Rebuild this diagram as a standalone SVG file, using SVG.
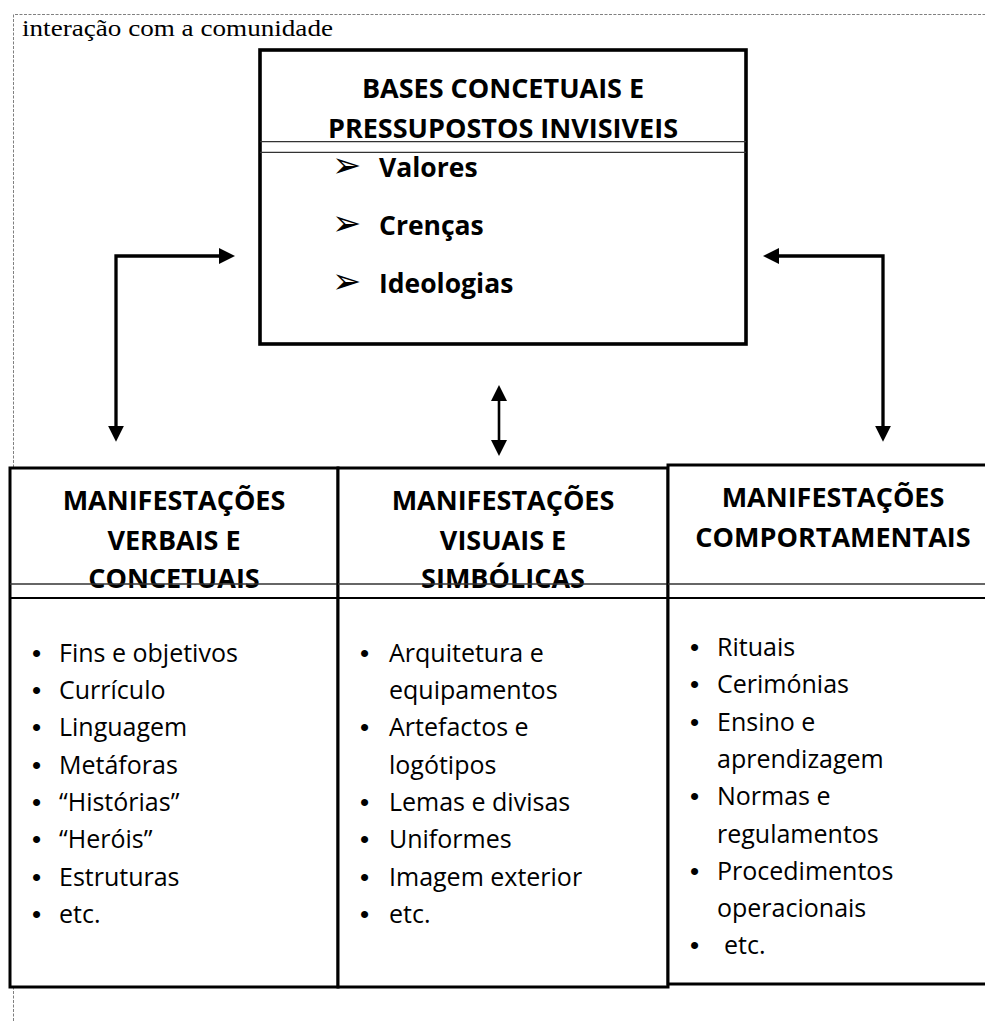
<svg xmlns="http://www.w3.org/2000/svg" width="985" height="1021" viewBox="0 0 985 1021">
<style>
.frame{fill:none;stroke:#808080;stroke-width:1;stroke-dasharray:3 1.5}
.cap{font-family:"Liberation Serif","Times New Roman",serif;font-size:23px;fill:#000}
.box{fill:#fff;stroke:#000;stroke-width:3}
.tbox{fill:#fff;stroke:#000;stroke-width:3.6}
.s1{stroke:#333;stroke-width:1.3}
.s2{stroke:#000;stroke-width:2}
.h{font-family:"Open Sans","DejaVu Sans",sans-serif;font-weight:700;font-size:27px;text-anchor:middle;fill:#000}
.tb{font-family:"Open Sans","DejaVu Sans",sans-serif;font-weight:700;font-size:26.5px;fill:#000}
.ar{font-family:"DejaVu Sans",sans-serif;font-size:35px;font-weight:400}
.li{font-family:"Open Sans","DejaVu Sans",sans-serif;font-size:25px;fill:#000}
.bu{font-family:"Liberation Sans",Arial,sans-serif;font-size:26px}
.con{fill:none;stroke:#000;stroke-width:3.3}
.con2{fill:none;stroke:#000;stroke-width:2.6}
</style>
<defs>
<marker id="ah" viewBox="0 0 16 16" markerWidth="16" markerHeight="16" markerUnits="userSpaceOnUse" refX="4" refY="8" orient="auto-start-reverse">
<path d="M0,0 L16,8 L0,16 z" fill="#000"/>
</marker>
</defs>

<g id="frame">
<path class="frame" d="M13.5,1021 V14.5 H985"/>
<text class="cap" x="22" y="36" textLength="311" lengthAdjust="spacingAndGlyphs">interação com a comunidade</text>
</g>

<g id="connectors">
<path class="con" d="M116,429.7 V256 H223" marker-start="url(#ah)" marker-end="url(#ah)"/>
<path class="con" d="M883,429.7 V256 H775" marker-start="url(#ah)" marker-end="url(#ah)"/>
<path class="con2" d="M499,397 V444" marker-start="url(#ah)" marker-end="url(#ah)"/>
</g>

<g id="bases">
<rect class="tbox" x="260" y="50" width="486" height="294"/>
<text class="h" x="503" y="98">BASES CONCETUAIS E</text>
<text class="h" x="503" y="137.7">PRESSUPOSTOS INVISIVEIS</text>
<line class="s1" x1="260" y1="141.7" x2="746" y2="141.7"/>
<line class="s1" x1="260" y1="152.3" x2="746" y2="152.3"/>
<text class="tb" y="176.7"><tspan class="ar" x="332">➢</tspan><tspan x="379">Valores</tspan></text>
<text class="tb" y="235"><tspan class="ar" x="332">➢</tspan><tspan x="379">Crenças</tspan></text>
<text class="tb" y="293"><tspan class="ar" x="332">➢</tspan><tspan x="379">Ideologias</tspan></text>
</g>

<g id="verbais">
<rect class="box" x="10" y="468" width="328" height="519"/>
<text class="h" x="174" y="510">MANIFESTAÇÕES</text>
<text class="h" x="174" y="550">VERBAIS E</text>
<text class="h" x="174" y="588">CONCETUAIS</text>
<line class="s1" x1="10" y1="584" x2="338" y2="584"/>
<line class="s2" x1="10" y1="598" x2="338" y2="598"/>
<text class="li" y="661.7"><tspan class="bu" x="32">•</tspan><tspan x="59">Fins e objetivos</tspan></text>
<text class="li" y="699"><tspan class="bu" x="32">•</tspan><tspan x="59">Currículo</tspan></text>
<text class="li" y="736.3"><tspan class="bu" x="32">•</tspan><tspan x="59">Linguagem</tspan></text>
<text class="li" y="773.6"><tspan class="bu" x="32">•</tspan><tspan x="59">Metáforas</tspan></text>
<text class="li" y="810.9"><tspan class="bu" x="32">•</tspan><tspan x="59">“Histórias”</tspan></text>
<text class="li" y="848.2"><tspan class="bu" x="32">•</tspan><tspan x="59">“Heróis”</tspan></text>
<text class="li" y="885.5"><tspan class="bu" x="32">•</tspan><tspan x="59">Estruturas</tspan></text>
<text class="li" y="922.8"><tspan class="bu" x="32">•</tspan><tspan x="59">etc.</tspan></text>
</g>

<g id="visuais">
<rect class="box" x="338" y="468" width="330" height="519"/>
<text class="h" x="503" y="510">MANIFESTAÇÕES</text>
<text class="h" x="503" y="550">VISUAIS E</text>
<text class="h" x="503" y="588">SIMBÓLICAS</text>
<line class="s1" x1="338" y1="584" x2="668" y2="584"/>
<line class="s2" x1="338" y1="598" x2="668" y2="598"/>
<text class="li" y="661.7"><tspan class="bu" x="360">•</tspan><tspan x="389">Arquitetura e</tspan></text>
<text class="li" x="389" y="699">equipamentos</text>
<text class="li" y="736.3"><tspan class="bu" x="360">•</tspan><tspan x="389">Artefactos e</tspan></text>
<text class="li" x="389" y="773.6">logótipos</text>
<text class="li" y="810.9"><tspan class="bu" x="360">•</tspan><tspan x="389">Lemas e divisas</tspan></text>
<text class="li" y="848.2"><tspan class="bu" x="360">•</tspan><tspan x="389">Uniformes</tspan></text>
<text class="li" y="885.5"><tspan class="bu" x="360">•</tspan><tspan x="389">Imagem exterior</tspan></text>
<text class="li" y="922.8"><tspan class="bu" x="360">•</tspan><tspan x="389">etc.</tspan></text>
</g>

<g id="comportamentais">
<rect class="box" x="668" y="465" width="340" height="519"/>
<text class="h" x="833" y="507">MANIFESTAÇÕES</text>
<text class="h" x="833" y="547">COMPORTAMENTAIS</text>
<line class="s1" x1="668" y1="584" x2="985" y2="584"/>
<line class="s2" x1="668" y1="598" x2="985" y2="598"/>
<text class="li" y="656"><tspan class="bu" x="690">•</tspan><tspan x="717">Rituais</tspan></text>
<text class="li" y="693.3"><tspan class="bu" x="690">•</tspan><tspan x="717">Cerimónias</tspan></text>
<text class="li" y="730.6"><tspan class="bu" x="690">•</tspan><tspan x="717">Ensino e</tspan></text>
<text class="li" x="717" y="767.9">aprendizagem</text>
<text class="li" y="805.2"><tspan class="bu" x="690">•</tspan><tspan x="717">Normas e</tspan></text>
<text class="li" x="717" y="842.5">regulamentos</text>
<text class="li" y="879.8"><tspan class="bu" x="690">•</tspan><tspan x="717">Procedimentos</tspan></text>
<text class="li" x="717" y="917.1">operacionais</text>
<text class="li" y="954.4"><tspan class="bu" x="690">•</tspan><tspan x="724">etc.</tspan></text>
</g>
</svg>
